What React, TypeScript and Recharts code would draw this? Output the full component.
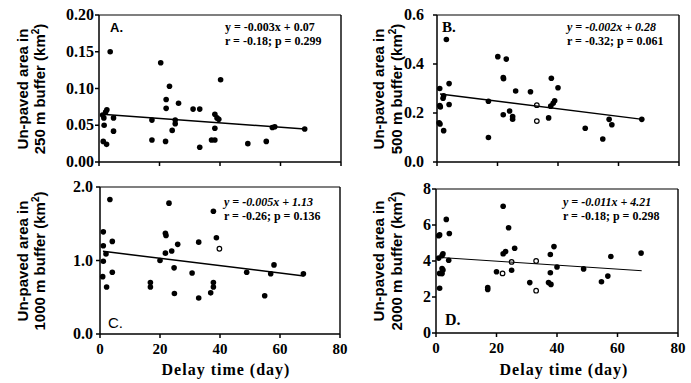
import React from 'react';
import { ScatterChart, Scatter, XAxis, YAxis, ReferenceLine } from 'recharts';

// ---- data (delay time in days, un-paved area in km²) ----
const delayTicks = [0, 20, 40, 60, 80];

const pointsA: [number, number][] = [
  [1.7, 0.05], [1.4, 0.028], [2.5, 0.024], [1.2, 0.064], [2.2, 0.068], [2.6, 0.071], [1.6, 0.06],
  [3.7, 0.15], [4.8, 0.06], [4.8, 0.042], [17.5, 0.057], [17.5, 0.03], [20.4, 0.135],
  [22.2, 0.085], [22.2, 0.073], [22.0, 0.028], [23.3, 0.103], [24.2, 0.043], [25.2, 0.057],
  [25.2, 0.052], [26.3, 0.08], [31.1, 0.072], [33.3, 0.072], [33.3, 0.02], [37.2, 0.03],
  [38.3, 0.03], [38.3, 0.065], [38.3, 0.046], [39.0, 0.06], [39.6, 0.058], [40.2, 0.112],
  [49.2, 0.025], [55.3, 0.028], [57.3, 0.047], [58.1, 0.048], [68.0, 0.045],
];
const openA: [number, number][] = [];
const fitA: [number, number][] = [[1, 0.065], [68, 0.045]];
const ticksA = [0, 0.05, 0.1, 0.15, 0.2];

const pointsB: [number, number][] = [
  [0.9, 0.3], [0.9, 0.23], [1.1, 0.225], [0.7, 0.16], [1.0, 0.155], [2.0, 0.26], [2.2, 0.27],
  [2.2, 0.128], [3.1, 0.5], [4.0, 0.32], [4.0, 0.235], [17.0, 0.248], [17.0, 0.1], [20.1, 0.43],
  [21.9, 0.345], [22.0, 0.34], [21.9, 0.193], [22.9, 0.42], [24.0, 0.208], [25.0, 0.186],
  [25.0, 0.175], [26.0, 0.29], [30.9, 0.287], [36.9, 0.18], [37.8, 0.342], [38.4, 0.24],
  [38.9, 0.25], [37.6, 0.228], [40.0, 0.303], [49.0, 0.138], [54.8, 0.094], [56.9, 0.174],
  [57.8, 0.152], [67.7, 0.174],
];
const openB: [number, number][] = [[33.0, 0.232], [33.0, 0.167]];
const fitB: [number, number][] = [[1, 0.278], [68, 0.174]];
const ticksB = [0, 0.2, 0.4, 0.6];

const pointsC: [number, number][] = [
  [1.1, 1.39], [1.1, 1.2], [1.1, 0.99], [0.9, 0.78], [2.0, 1.09], [2.2, 0.64], [3.3, 1.83],
  [4.1, 1.26], [4.1, 0.84], [16.8, 0.7], [16.8, 0.64], [20.0, 1.0], [21.8, 1.37], [22.0, 1.34],
  [21.8, 1.1], [23.0, 1.78], [23.9, 1.13], [24.7, 0.9], [24.8, 0.55], [25.9, 1.22], [30.7, 0.83],
  [32.9, 1.25], [32.9, 0.49], [36.9, 0.56], [37.8, 1.67], [37.8, 0.7], [37.8, 0.64], [38.8, 1.31],
  [48.9, 0.84], [54.9, 0.52], [56.9, 0.82], [58.0, 0.94], [67.8, 0.82],
];
const openC: [number, number][] = [[39.8, 1.16]];
const fitC: [number, number][] = [[1, 1.125], [68, 0.79]];
const ticksC = [0, 1, 2];

const pointsD: [number, number][] = [
  [0.9, 5.4], [1.2, 5.45], [0.9, 4.16], [1.2, 3.31], [1.2, 2.49], [2.0, 4.3], [2.3, 4.4],
  [2.0, 3.58], [2.3, 3.5], [2.0, 3.3], [3.4, 6.31], [4.2, 4.04], [4.4, 5.53], [17.1, 2.53],
  [17.1, 2.42], [20.0, 3.4], [22.2, 7.04], [22.2, 4.4], [23.0, 4.53], [24.0, 5.85], [25.0, 3.49],
  [26.0, 4.71], [31.0, 2.8], [37.2, 2.8], [38.0, 2.7], [37.8, 3.35], [37.8, 4.36], [39.0, 4.8],
  [40.0, 3.67], [48.8, 3.56], [54.7, 2.85], [56.8, 3.16], [57.8, 4.25], [67.8, 4.44],
];
const openD: [number, number][] = [[22.0, 3.31], [25.0, 3.95], [33.1, 2.35], [33.1, 4.0]];
const fitD: [number, number][] = [[1, 4.2], [68, 3.46]];
const ticksD = [0, 2, 4, 6, 8];

const toXY = (a: [number, number][]) => a.map(([x, y]) => ({ x, y }));

const SERIF = "'Liberation Serif', 'Times New Roman', serif";
const SANS = "'Liberation Sans Narrow', 'Liberation Sans', Arial, sans-serif";

const Dot = (p: any) => <circle cx={p.cx} cy={p.cy} r={2.8} fill="#000" />;
const OpenDot = (p: any) => (
  <circle cx={p.cx} cy={p.cy} r={2.3} fill="#fff" stroke="#000" strokeWidth={1.2} />
);
const NoDot = () => <g />;

// custom y tick label: formats value with a fixed number of decimals
const makeYTick = (digits: number) => (props: any) => {
  const { x, y, payload } = props;
  const v = Number(payload.value);
  return (
    <text x={x} y={y} dy={5} textAnchor="end" fill="#000"
      fontFamily={SERIF} fontWeight="bold" fontSize={16}>
      {digits === 0 ? String(v) : v.toFixed(digits)}
    </text>
  );
};
const xTickLabel = (props: any) => (
  <text x={props.x} y={props.y} dy={12} textAnchor="middle" fill="#000"
    fontFamily={SERIF} fontWeight="bold" fontSize={15}>
    {props.payload.value}
  </text>
);
const xTickEmpty = () => <g />;

const yTickA = makeYTick(2);
const yTickB = makeYTick(1);
const yTickC = makeYTick(1);
const yTickD = makeYTick(0);

type PanelProps = {
  left: number; top: number; width: number; height: number;
  margin: { top: number; right: number; bottom: number; left: number };
  xHeight: number; yTicks: number[]; yTick: any; yTickMargin: number;
  showX: boolean; points: [number, number][]; open: [number, number][];
  fit: [number, number][]; fitWidth: number;
};

function Panel(p: PanelProps) {
  const yMax = p.yTicks[p.yTicks.length - 1];
  return (
    <div style={{ position: 'absolute', left: p.left, top: p.top }}>
      <ScatterChart width={p.width} height={p.height} margin={p.margin}>
        <XAxis
          type="number" dataKey="x" domain={[0, 80]} ticks={delayTicks} interval={0}
          height={p.xHeight} stroke="#000" strokeWidth={1.5} tickSize={4} tickMargin={4}
          tick={p.showX ? xTickLabel : xTickEmpty}
        />
        <YAxis
          type="number" dataKey="y" domain={[0, yMax]} ticks={p.yTicks} width={40} interval={0}
          stroke="#000" strokeWidth={1.5} tickSize={4} tickMargin={p.yTickMargin}
          tick={p.yTick}
        />
        <ReferenceLine y={yMax} stroke="#000" strokeWidth={1.2} ifOverflow="visible" />
        <ReferenceLine x={80} stroke="#000" strokeWidth={1.4} ifOverflow="visible" />
        <Scatter data={toXY(p.points)} shape={Dot} isAnimationActive={false} />
        <Scatter data={toXY(p.open)} shape={OpenDot} isAnimationActive={false} />
        <Scatter
          data={toXY(p.fit)} shape={NoDot} line={{ stroke: '#000', strokeWidth: p.fitWidth }}
          isAnimationActive={false}
        />
      </ScatterChart>
    </div>
  );
}

function YTitle({ x1, x2, cy, buffer }: { x1: number; x2: number; cy: number; buffer: string }) {
  return (
    <g fontFamily={SANS} fontWeight="bold" fontSize={15} fill="#000" textAnchor="middle">
      <text x={x1} y={cy} transform={`rotate(-90, ${x1}, ${cy})`}>Un-paved area in</text>
      <text x={x2} y={cy} transform={`rotate(-90, ${x2}, ${cy})`}>
        {buffer} m buffer (km<tspan dy={-6} fontSize={10}>2</tspan>
        <tspan dy={6}>)</tspan>
      </text>
    </g>
  );
}

function Eq({ x, y, l1, l2, italic }: { x: number; y: number; l1: string; l2: string; italic: boolean }) {
  return (
    <g fontFamily={SERIF} fontWeight="bold" fontSize={12} fill="#000">
      <text x={x} y={y} fontStyle={italic ? 'italic' : 'normal'}>{l1}</text>
      <text x={x} y={y + 14}>{l2}</text>
    </g>
  );
}

export default function App() {
  return (
    <div style={{ position: 'absolute', left: 0, top: 0, width: 691, height: 383, background: '#fff' }}>
      <svg width={691} height={383} style={{ position: 'absolute', left: 0, top: 0 }}>
        <YTitle x1={28} x2={45} cy={89} buffer="250" />
        <YTitle x1={384} x2={402} cy={89} buffer="500" />
        <YTitle x1={28} x2={45} cy={261} buffer="1000" />
        <YTitle x1={384} x2={402} cy={261} buffer="2000" />

        <Eq x={225} y={31} l1="y = -0.003x + 0.07" l2="r = -0.18; p = 0.299" italic={false} />
        <Eq x={567} y={31} l1="y = -0.002x + 0.28" l2="r = -0.32; p = 0.061" italic={true} />
        <Eq x={224} y={206} l1="y = -0.005x + 1.13" l2="r = -0.26; p = 0.136" italic={true} />
        <Eq x={563} y={206} l1="y = -0.011x + 4.21" l2="r = -0.18; p = 0.298" italic={true} />

        <text x={110} y={32} fontFamily={SANS} fontWeight="bold" fontSize={13}>A.</text>
        <text x={442} y={32} fontFamily={SERIF} fontWeight="bold" fontSize={15}>B.</text>
        <text x={108} y={328} fontFamily={SANS} fontSize={15}>C.</text>
        <text x={445} y={325} fontFamily={SERIF} fontWeight="bold" fontSize={16}>D.</text>

        <g fontFamily={SERIF} fontWeight="bold" fontSize={16} letterSpacing={1} textAnchor="middle">
          <text x={226} y={375}>Delay time (day)</text>
          <text x={564} y={375}>Delay time (day)</text>
        </g>
      </svg>

      <Panel left={0} top={0} width={350} height={180}
        margin={{ top: 15, right: 9, bottom: 0, left: 59 }} xHeight={18}
        yTicks={ticksA} yTick={yTickA} yTickMargin={1} showX={false}
        points={pointsA} open={openA} fit={fitA} fitWidth={1.5} />
      <Panel left={345} top={0} width={346} height={180}
        margin={{ top: 15, right: 12, bottom: 0, left: 52 }} xHeight={18}
        yTicks={ticksB} yTick={yTickB} yTickMargin={9} showX={false}
        points={pointsB} open={openB} fit={fitB} fitWidth={1.5} />
      <Panel left={0} top={180} width={350} height={203}
        margin={{ top: 7, right: 10, bottom: 19, left: 60 }} xHeight={30}
        yTicks={ticksC} yTick={yTickC} yTickMargin={3} showX={true}
        points={pointsC} open={openC} fit={fitC} fitWidth={1.5} />
      <Panel left={345} top={180} width={346} height={203}
        margin={{ top: 9, right: 13, bottom: 20, left: 51 }} xHeight={30}
        yTicks={ticksD} yTick={yTickD} yTickMargin={1} showX={true}
        points={pointsD} open={openD} fit={fitD} fitWidth={1} />
    </div>
  );
}
